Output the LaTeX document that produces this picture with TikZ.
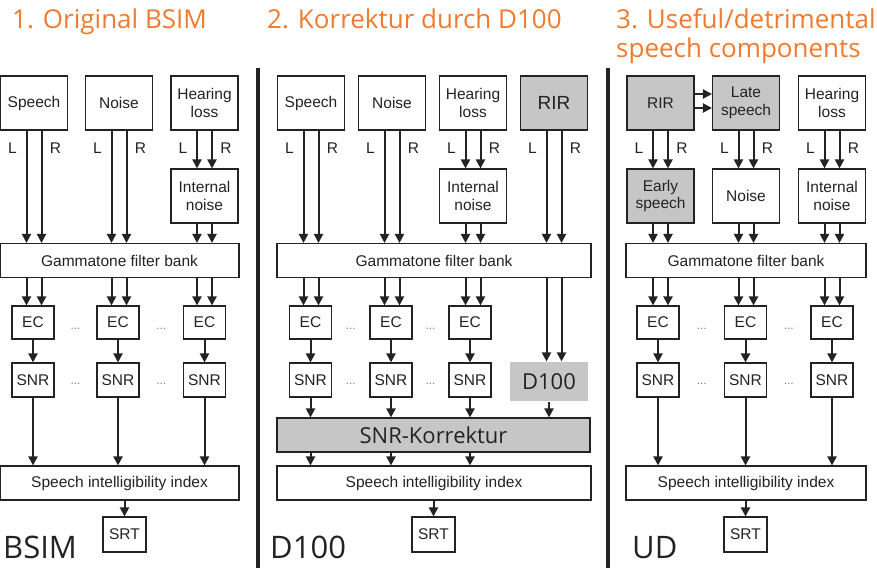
\documentclass[tikz,border=0pt]{standalone}
\usepackage{fontspec}
\setmainfont{Liberation Sans}
\newfontfamily\headfont{Open Sans}
\usetikzlibrary{arrows.meta}
\usetikzlibrary{calc}

\definecolor{titleorange}{RGB}{240,122,45}
\definecolor{boxgray}{RGB}{198,198,198}
\definecolor{linegray}{RGB}{35,35,35}

\newcommand\boxsize{\fontsize{15.5}{17.5}\selectfont}

\tikzset{
 blk/.style={draw=linegray, line width=1.1pt, fill=white, inner sep=0pt, align=center, text=linegray, font=\boxsize},
 big/.style={blk, minimum width=67pt, minimum height=54pt},
 small/.style={blk, minimum width=42pt, minimum height=33pt},
 wide/.style={blk, minimum height=34pt},
 shaded/.style={fill=boxgray},
 headtext/.style={font=\headfont\fontsize{22}{22}\selectfont},
 arr/.style={draw=linegray, line width=2pt, -{Triangle[width=9pt,length=9pt]}},
 lr/.style={font=\boxsize, text=linegray, inner sep=0pt},
 dots/.style={font=\fontsize{12}{12}\selectfont, text=gray, inner sep=0pt},
 title/.style={font=\headfont\fontsize{26}{29}\selectfont, text=titleorange, anchor=base west, inner sep=0pt},
 tag/.style={font=\headfont\fontsize{31}{31}\selectfont, text=linegray, anchor=base west, inner sep=0pt},
 sep/.style={draw=linegray, line width=3.5pt}
}

\begin{document}
\begin{tikzpicture}[x=1pt,y=-1pt]
\useasboundingbox (0,0) rectangle (877,568);

% titles
\node[title] (t1) at (12,28) {1. Original BSIM};
\node[title] (t2) at (267,28) {2. Korrektur durch D100};
\node[title] (t3a) at (616,28) {3. Useful/detrimental};
\node[title] (t3b) at (616,57) {speech components};

% separators
\draw[sep] (258,68) -- (258,568);
\draw[sep] (608,68) -- (608,568);

% panel 1: original BSIM
\node[big] (sp1) at (34,103) {Speech};
\node[big] (no1) at (119,103) {Noise};
\node[big] (hl1) at (204.5,103) {Hearing\\loss};
\node[big] (in1) at (204.5,196) {Internal\\noise};
\node[wide, minimum width=239pt] (gt1) at (119.5,260.5) {Gammatone filter bank};
\foreach \i/\x in {1/33,2/118,3/204.5} {
 \node[small] (ec1\i) at (\x,322.5) {EC};
 \node[small, minimum height=34pt] (snr1\i) at (\x,380) {SNR};
 \draw[arr] (ec1\i) -- (snr1\i);
}
\node[wide, minimum width=239pt] (sii1) at (119.5,483) {Speech intelligibility index};
\node[blk, minimum width=43pt, minimum height=35pt] (srt1) at (124.5,534.5) {SRT};
\node[tag] (bsim) at (3,558) {BSIM};

% panel 2: Korrektur durch D100
\node[big] (sp2) at (311,103) {Speech};
\node[big] (no2) at (392,103) {Noise};
\node[big] (hl2) at (473,103) {Hearing\\loss};
\node[big, shaded, font=\fontsize{19}{19}\selectfont] (rir2) at (554,103) {RIR};
\node[big] (in2) at (473,196) {Internal\\noise};
\node[wide, minimum width=314pt] (gt2) at (434,260.5) {Gammatone filter bank};
\foreach \i/\x in {1/310.5,2/391,3/470} {
 \node[small] (ec2\i) at (\x,322.5) {EC};
 \node[small, minimum height=34pt] (snr2\i) at (\x,380) {SNR};
 \draw[arr] (ec2\i) -- (snr2\i);
}
\node[blk, draw=none, shaded, headtext, minimum width=78pt, minimum height=39pt] (d100) at (549,381.5) {D100};
\node[wide, shaded, headtext, minimum width=313pt] (kor) at (433.5,435) {SNR-Korrektur};
\node[wide, minimum width=314pt] (sii2) at (434,483) {Speech intelligibility index};
\node[blk, minimum width=43pt, minimum height=35pt] (srt2) at (433.5,534.5) {SRT};
\node[tag] (dtag) at (270,558) {D100};

% panel 3: useful/detrimental components
\node[big, shaded] (rir3) at (660.5,103) {RIR};
\node[big, shaded] (late3) at (746,103) {Late\\speech};
\node[big] (hl3) at (832,103) {Hearing\\loss};
\node[big, shaded] (early3) at (660.5,196) {Early\\speech};
\node[big] (no3) at (746,196) {Noise};
\node[big] (in3) at (832,196) {Internal\\noise};
\node[wide, minimum width=240pt] (gt3) at (746,260.5) {Gammatone filter bank};
\foreach \i/\x in {1/658,2/745.5,3/832} {
 \node[small] (ec3\i) at (\x,322.5) {EC};
 \node[small, minimum height=34pt] (snr3\i) at (\x,380) {SNR};
 \draw[arr] (ec3\i) -- (snr3\i);
}
\node[wide, minimum width=240pt] (sii3) at (746,483) {Speech intelligibility index};
\node[blk, minimum width=43pt, minimum height=35pt] (srt3) at (745.5,534.5) {SRT};
\node[tag] (ud) at (632,558) {UD};

% L/R labels
\foreach \b in {sp1,no1,hl1,sp2,no2,hl2,rir2,rir3,late3,hl3} {
 \node[lr] (\b-L) at ([xshift=-21.5pt,yshift=-18pt]\b.south) {L};
 \node[lr] (\b-R) at ([xshift=21.5pt,yshift=-18pt]\b.south) {R};
}

% double arrows between stacked boxes
\foreach \s/\t in {sp1/gt1,no1/gt1,hl1/in1,in1/gt1,sp2/gt2,no2/gt2,hl2/in2,in2/gt2,rir2/gt2,
  rir3/early3,late3/no3,hl3/in3,early3/gt3,no3/gt3,in3/gt3}
 \foreach \d in {-7.5,7.5}
  \draw[arr] ([xshift=\d pt]\s.south) -- ([xshift=\d pt]\s.south |- \t.north);

% filter bank to EC
\foreach \u/\e/\g in {sp1/ec11/gt1,no1/ec12/gt1,in1/ec13/gt1,sp2/ec21/gt2,no2/ec22/gt2,in2/ec23/gt2,
  early3/ec31/gt3,no3/ec32/gt3,in3/ec33/gt3}
 \foreach \d in {-7.5,7.5}
  \draw[arr] ([xshift=\d pt]\u.south |- \g.south) -- ([xshift=\d pt]\u.south |- \e.north);
\foreach \d in {-7.5,7.5}
 \draw[arr] ([xshift=\d pt]rir2.south |- gt2.south) -- ([xshift=\d pt]rir2.south |- d100.north);

% RIR to late speech
\foreach \d in {9,-5}
 \draw[arr] ([yshift=\d pt]rir3.east) -- ([yshift=\d pt]rir3.east -| late3.west);

% SNR to index
\foreach \i in {1,2,3} {
 \draw[arr] (snr1\i) -- (snr1\i |- sii1.north);
 \draw[arr] (snr3\i) -- (snr3\i |- sii3.north);
 \draw[arr] (snr2\i) -- (snr2\i |- kor.north);
 \draw[arr] (snr2\i |- kor.south) -- (snr2\i |- sii2.north);
}
\draw[arr] (d100) -- (d100 |- kor.north);

% dots
\foreach \p in {1,2,3} \foreach \a/\b in {1/2,2/3} {
 \node[dots] (ecd\p\a) at ($(ec\p\a.east)!0.5!(ec\p\b.west)+(0,6)$) {...};
 \node[dots] (snrd\p\a) at ($(snr\p\a.east)!0.5!(snr\p\b.west)+(0,4)$) {...};
}

% index to SRT
\draw[arr] (sii1.south -| srt1) -- (srt1);
\draw[arr] (sii2.south -| srt2) -- (srt2);
\draw[arr] (sii3.south -| srt3) -- (srt3);
\end{tikzpicture}
\end{document}
